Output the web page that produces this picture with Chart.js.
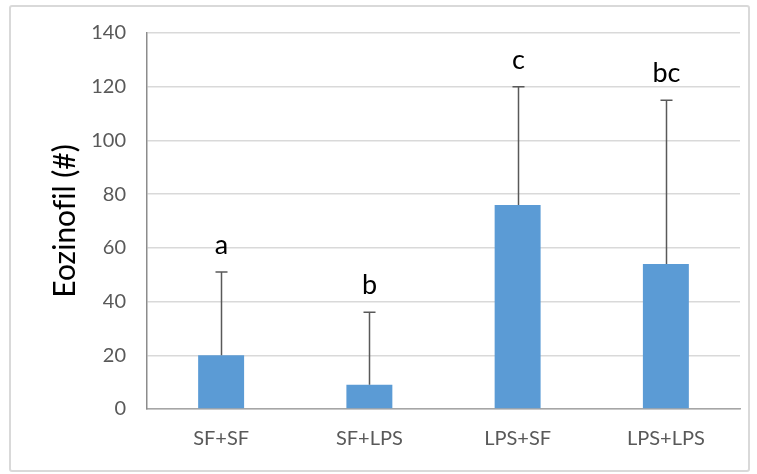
<!DOCTYPE html>
<html>
<head>
<meta charset="utf-8">
<script src="https://cdn.jsdelivr.net/npm/chart.js@4.4.1/dist/chart.umd.min.js"></script>
<style>
  html, body { margin: 0; padding: 0; background: #ffffff; }
  #wrap { position: relative; width: 757px; height: 474px; }
  #frame {
    position: absolute; left: 9px; top: 5px; width: 737px; height: 463px;
    border: 2px solid #d9d9d9; border-radius: 3px; box-sizing: content-box;
  }
  canvas { position: absolute; left: 0; top: 0; }
</style>
</head>
<body>
<div id="wrap">
  <div id="frame"></div>
  <canvas id="chart" width="757" height="474"></canvas>
</div>
<script>
// Eosinophil counts per treatment group
const groups = ['SF+SF', 'SF+LPS', 'LPS+SF', 'LPS+LPS'];
const means = [20, 9, 76, 54];
const errorTops = [51, 36, 120, 115];
const letters = ['a', 'b', 'c', 'bc'];
const yTicks = [0, 20, 40, 60, 80, 100, 120, 140];
// zero-width non-joiner keeps "f" and "i" as separate glyphs
const yTitle = 'Eozinof\u200Cil (#)';

const FONT = 'Lato, "Open Sans", sans-serif';

// Upward-only error bars with caps, plus significance letters above them
const errorBarPlugin = {
  id: 'errorBars',
  afterDatasetsDraw(chart) {
    const ctx = chart.ctx;
    const meta = chart.getDatasetMeta(0);
    const y = chart.scales.y;
    ctx.save();
    meta.data.forEach((bar, i) => {
      const x = Math.round(bar.x) + 0.5;
      const yTop = y.getPixelForValue(errorTops[i]);
      const yBase = y.getPixelForValue(means[i]);
      ctx.strokeStyle = '#595959';
      ctx.lineWidth = 1.5;
      ctx.beginPath();
      ctx.moveTo(x, yBase);
      ctx.lineTo(x, yTop);
      ctx.moveTo(x - 6, yTop);
      ctx.lineTo(x + 6, yTop);
      ctx.stroke();

      ctx.fillStyle = '#000000';
      ctx.font = '27px ' + FONT;
      ctx.textAlign = 'center';
      ctx.textBaseline = 'alphabetic';
      ctx.fillText(letters[i], x, yTop - 18);
    });
    ctx.restore();
  }
};

new Chart(document.getElementById('chart'), {
  type: 'bar',
  data: {
    labels: groups,
    datasets: [{
      data: means,
      backgroundColor: '#5b9bd5',
      borderWidth: 0,
      categoryPercentage: 1.0,
      barPercentage: 0.31
    }]
  },
  options: {
    responsive: false,
    animation: false,
    events: [],
    layout: { padding: { left: 0, top: 33, right: 17, bottom: 0 } },
    plugins: { legend: { display: false }, tooltip: { enabled: false } },
    scales: {
      x: {
        grid: { display: false, drawTicks: false },
        border: { display: true, color: '#a6a6a6', width: 1.5 },
        ticks: { color: '#595959', font: { family: FONT, size: 20 }, padding: 18 },
        afterFit(scale) { scale.height = 65; }
      },
      y: {
        min: 0,
        max: 140,
        afterBuildTicks(scale) { scale.ticks = yTicks.map(v => ({ value: v })); },
        grid: { color: '#d9d9d9', lineWidth: 1.5, drawTicks: false },
        border: { display: true, color: '#8c8c8c', width: 1.5 },
        ticks: { color: '#595959', font: { family: FONT, size: 20 }, padding: 21 },
        title: {
          display: true,
          text: yTitle,
          color: '#000000',
          font: { family: FONT, size: 30 },
          padding: { top: 47, bottom: 0 }
        },
        afterFit(scale) { scale.width = 147; }
      }
    }
  },
  plugins: [errorBarPlugin]
});
</script>
</body>
</html>
